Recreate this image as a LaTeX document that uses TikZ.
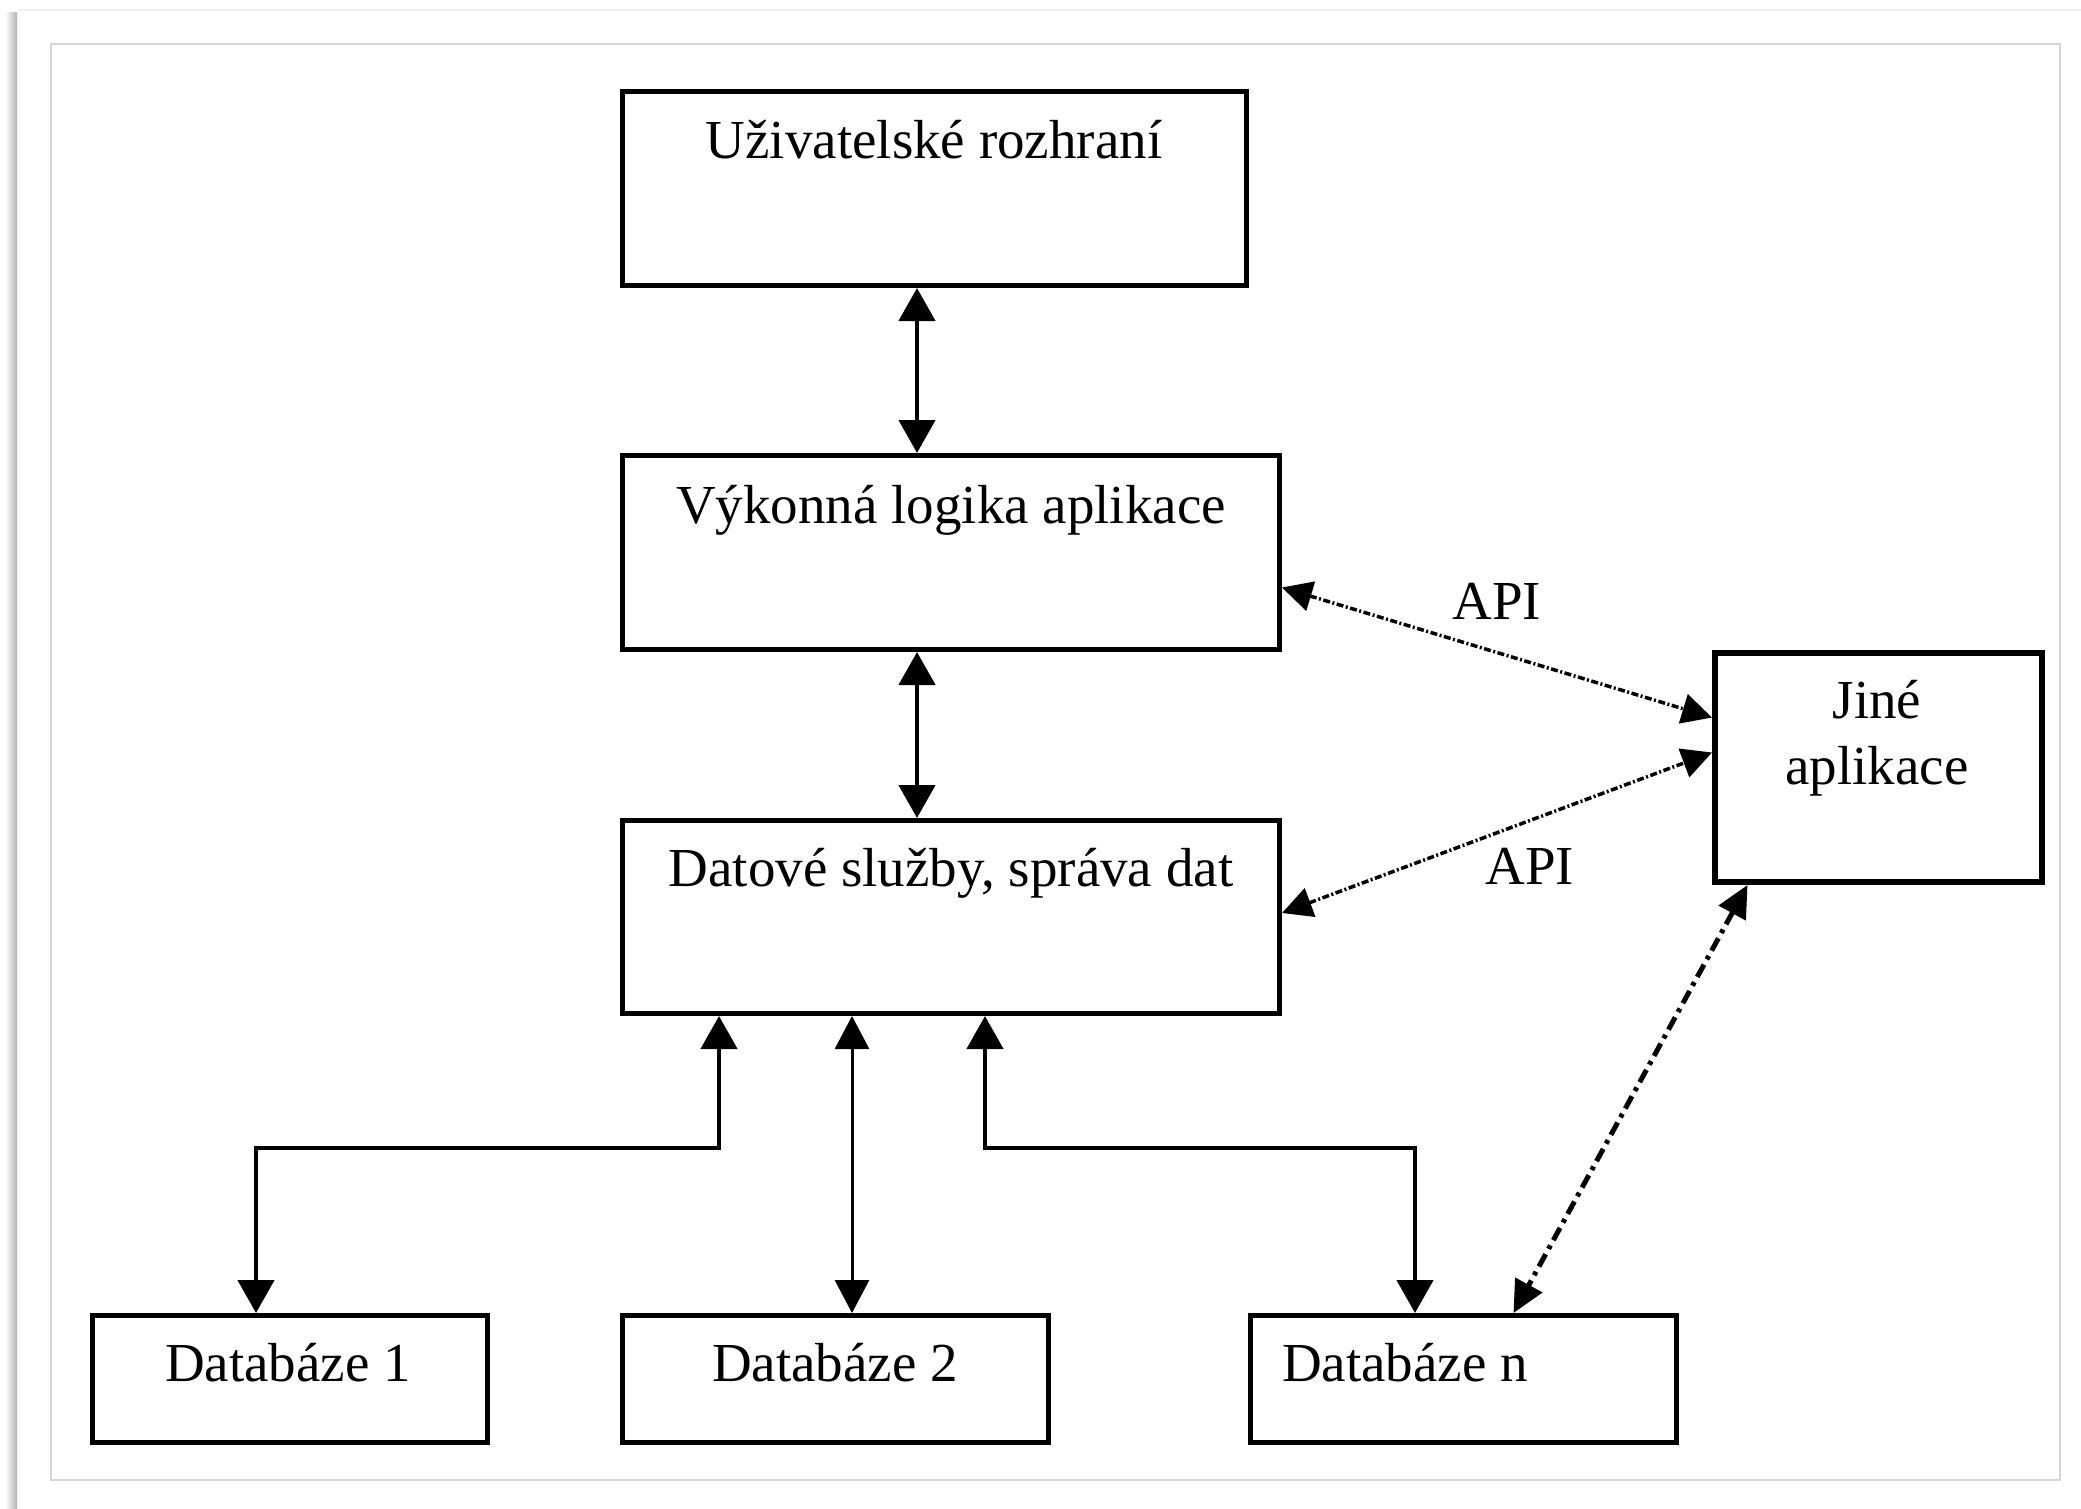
\documentclass[tikz,border=0pt]{standalone}
\usepackage{fontspec}
\setmainfont{Liberation Serif}
\usetikzlibrary{arrows.meta}

\begin{document}
\begin{tikzpicture}[x=1pt,y=-1pt,
  box/.style={draw=black, line width=5pt, fill=white, inner sep=0pt},
  lbl/.style={anchor=base, inner sep=0pt, font=\fontsize{55}{66}\selectfont},
  link/.style={line width=4.5pt, {Triangle[length=33pt,width=36pt]}-{Triangle[length=33pt,width=36pt]}},
  thinlink/.style={line width=3pt, {Triangle[length=33pt,width=34pt]}-{Triangle[length=33pt,width=34pt]}},
  apilink/.style={line width=3.5pt, dash pattern=on 7pt off 2.5pt on 2pt off 2.5pt,
    {Triangle[length=30pt,width=30pt]}-{Triangle[length=30pt,width=30pt]}},
  dashdotlink/.style={line width=5pt, dash pattern=on 14pt off 6pt on 4pt off 6pt,
    {Triangle[length=32pt,width=30pt]}-{Triangle[length=32pt,width=30pt]}}
]
% page area and its soft shadow
\useasboundingbox (0,0) rectangle (2081,1508);
\fill[white] (0,0) rectangle (2081,1508);
\shade[left color=white, right color=black!30] (5,12) rectangle (17,1508);
\draw[black!6, line width=2pt] (18,10) -- (2081,10);
\draw[black!16, line width=2pt] (51,44) rectangle (2060,1480);

% boxes
\node[box, minimum width=624pt, minimum height=194pt] (ui) at (934.5,188.5) {};
\node[box, minimum width=657pt, minimum height=194pt] (vl) at (951,552.5) {};
\node[box, minimum width=657pt, minimum height=193pt] (ds) at (951,917) {};
\node[box, line width=6pt, minimum width=327pt, minimum height=229pt] (other) at (1878.5,767.5) {};
\node[box, minimum width=395pt, minimum height=127pt] (db1) at (290,1379) {};
\node[box, minimum width=426pt, minimum height=127pt] (db2) at (835.5,1379) {};
\node[box, minimum width=426pt, minimum height=127pt] (dbn) at (1463.5,1379) {};

% box texts
\node[lbl] (tui) at (934,158) {Uživatelské rozhraní};
\node[lbl] (tvl) at (951,523) {Výkonná logika aplikace};
\node[lbl] (tds) at (951,886) {Datové služby, správa dat};
\node[lbl] (tother1) at (1877,718) {Jiné};
\node[lbl] (tother2) at (1877,784) {aplikace};
\node[lbl] (tdb1) at (288,1381) {Databáze 1};
\node[lbl] (tdb2) at (835,1381) {Databáze 2};
\node[lbl] (tdbn) at (1405,1381) {Databáze n};
\node[lbl] (api1) at (1497,619) {API};
\node[lbl] (api2) at (1530,884) {API};

% vertical links between the layers
\draw[link] ([xshift=-17.5pt]ui.south) -- ([xshift=-34pt]vl.north);
\draw[link] ([xshift=-34pt]vl.south) -- ([xshift=-34pt]ds.north);

% links to the databases
\draw[link] ([xshift=-232pt]ds.south) -- ++(0,132) -| ([xshift=-34pt]db1.north);
\draw[thinlink] ([xshift=-99pt]ds.south) -- ([xshift=16.5pt]db2.north);
\draw[link] ([xshift=34pt]ds.south) -- ++(0,132) -| ([xshift=-48.5pt]dbn.north);

% API links to other applications
\draw[apilink] ([yshift=-35pt]vl.east) -- ([yshift=50pt]other.west);
\draw[apilink] ([yshift=4pt]ds.east) -- ([yshift=15pt]other.west);
\draw[dashdotlink] ([xshift=-131pt]other.south) -- ([xshift=50pt]dbn.north);
\end{tikzpicture}
\end{document}
